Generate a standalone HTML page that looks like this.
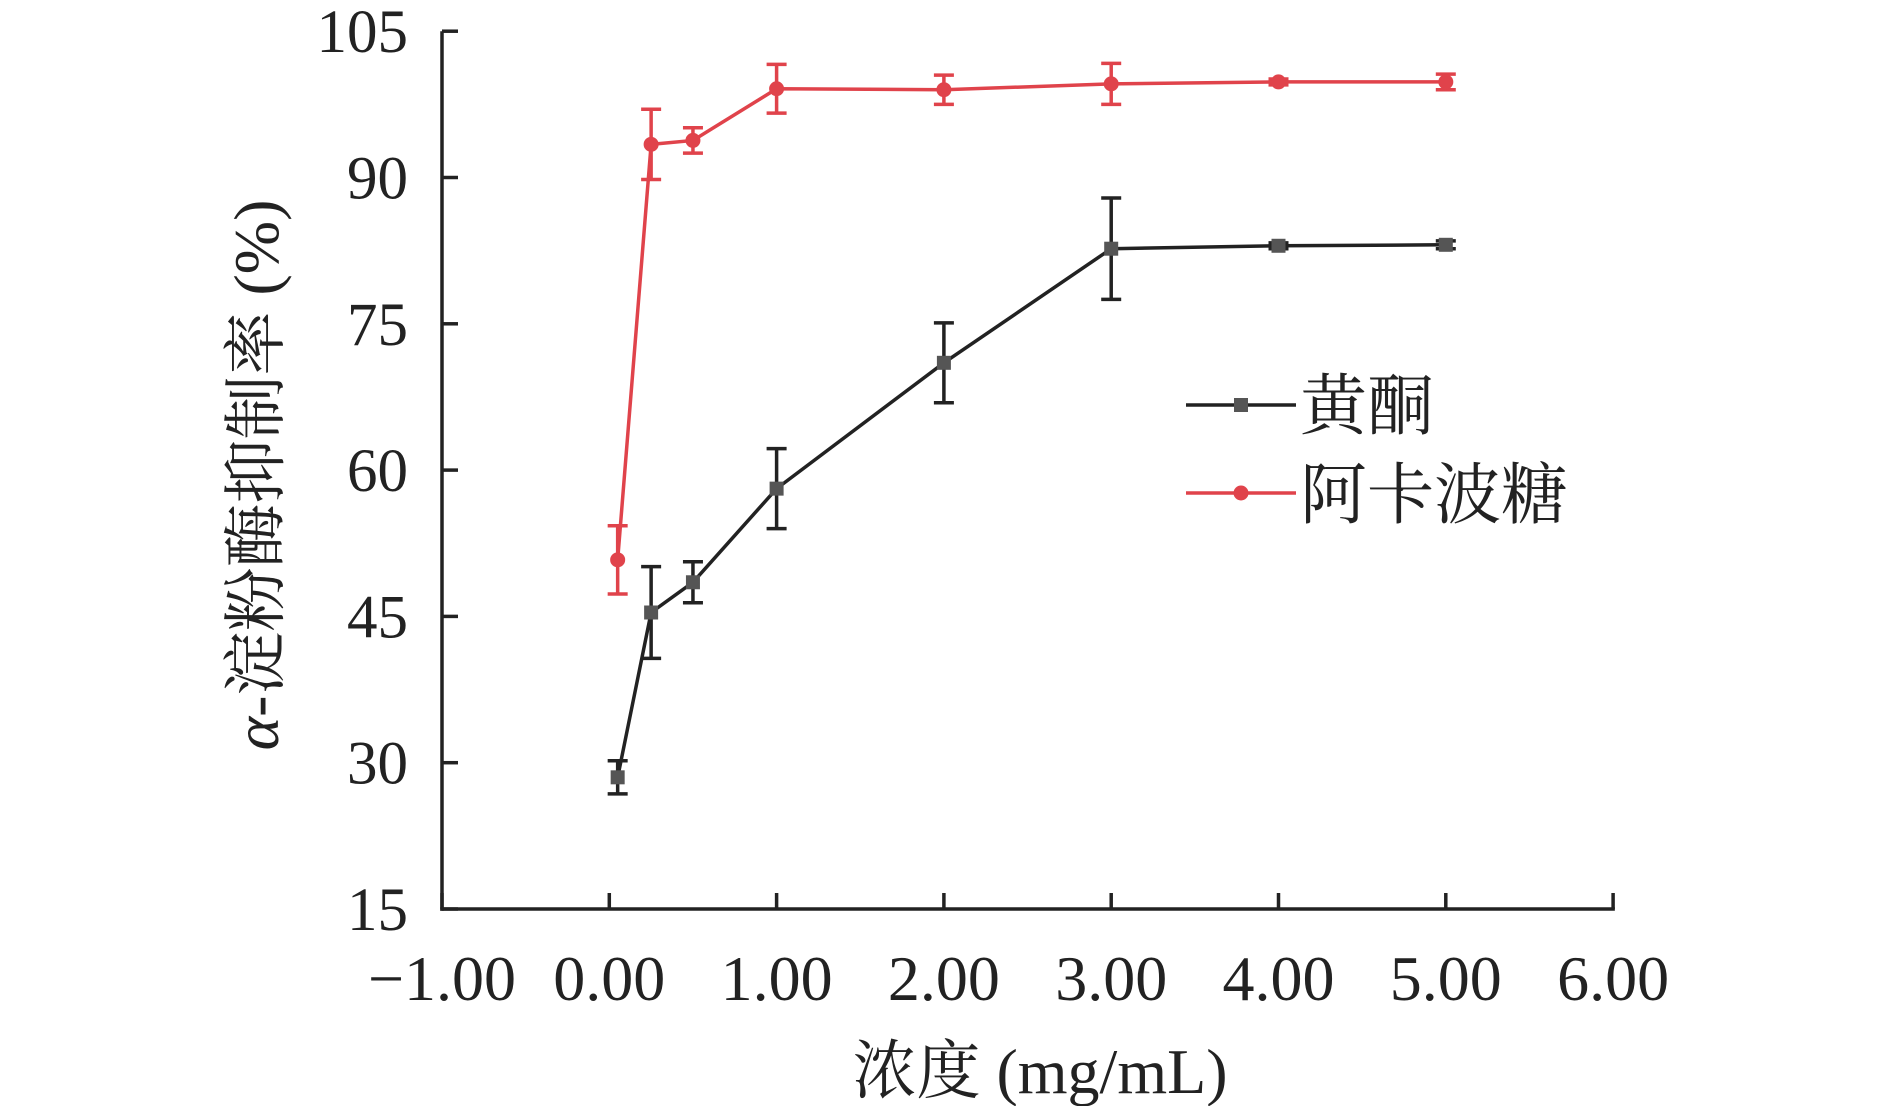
<!DOCTYPE html>
<html><head><meta charset="utf-8"><style>
html,body{margin:0;padding:0;background:#fff;}
svg{display:block;}
text{font-family:"Liberation Serif","Noto Serif CJK SC",serif;fill:#222;}
</style></head><body>
<svg id="chart" width="1890" height="1106" viewBox="0 0 1890 1106" xmlns="http://www.w3.org/2000/svg">
<g id="axes"></g>
<g id="series"></g>
<text transform="translate(278,475) rotate(-90)" text-anchor="middle" font-size="64"><tspan font-style="italic">α</tspan>-淀粉酶抑制率 (%)</text>
<text x="1040" y="1093" text-anchor="middle" font-size="64">浓度 (mg/mL)</text>
<g transform="translate(-15,-3)">
<g>
<line x1="1201" y1="408" x2="1311" y2="408" stroke="#222" stroke-width="3.5"/>
<rect x="1249" y="401" width="14" height="14" fill="#555"/>
<text x="1315" y="432" font-size="67">黄酮</text></g>
<g>
<line x1="1201" y1="496" x2="1311" y2="496" stroke="#e0434b" stroke-width="3.5"/>
<circle cx="1256" cy="496" r="7.5" fill="#e0434b"/>
<text x="1315" y="521" font-size="67">阿卡波糖</text></g>
</g>
</svg>
<script>
const xCats=[0.05,0.25,0.5,1,2,3,4,5];
const flavone=[28.5,45.4,48.5,58.1,71.0,82.7,83.0,83.1];
const flavoneErr=[1.7,4.7,2.1,4.1,4.1,5.2,0.3,0.4];
const acarbose=[50.8,93.4,93.8,99.1,99.0,99.6,99.8,99.8];
const acarboseErr=[3.5,3.6,1.3,2.5,1.5,2.1,0.3,0.8];
const xTicks=[-1,0,1,2,3,4,5,6];
const xTickLabels=["−1.00","0.00","1.00","2.00","3.00","4.00","5.00","6.00"];
const yTicks=[15,30,45,60,75,90,105];

const NS="http://www.w3.org/2000/svg";
const X0=442,XU=167.3,Y0=909,YU=146.3/15;
const sx=v=>X0+(v+1)*XU;
const sy=v=>Y0-(v-15)*YU;
function mk(tag,attrs,parent){const e=document.createElementNS(NS,tag);for(const k in attrs)e.setAttribute(k,attrs[k]);parent.appendChild(e);return e;}
const ax=document.getElementById('axes');
let e=mk('line',{x1:sx(-1),y1:sy(105),x2:sx(-1),y2:sy(15)+1.75,stroke:'#222','stroke-width':3.5},ax);


e=mk('line',{x1:sx(-1)-1.75,y1:sy(15),x2:sx(6)+1.75,y2:sy(15),stroke:'#222','stroke-width':3.5},ax);


yTicks.forEach(v=>{
  const t=mk('line',{x1:sx(-1),y1:sy(v),x2:sx(-1)+16,y2:sy(v),stroke:'#222','stroke-width':3.5},ax);
  
  
  const l=mk('text',{x:408,y:sy(v)+21,'text-anchor':'end','font-size':61},ax);
  l.textContent=String(v);
  
  
});
xTicks.forEach((v,i)=>{
  const t=mk('line',{x1:sx(v),y1:sy(15),x2:sx(v),y2:sy(15)-16,stroke:'#222','stroke-width':3.5},ax);
  
  
  const l=mk('text',{x:sx(v),y:1000,'text-anchor':'middle','font-size':64},ax);
  l.textContent=xTickLabels[i];
  
  
});
const sg=document.getElementById('series');
function drawSeries(vals,errs,color,mcolor,shape,name){
  const g=mk('g',{},sg);
  
  
  const pts=xCats.map((x,i)=>sx(x)+','+sy(vals[i])).join(' ');
  const pl=mk('polyline',{points:pts,fill:'none',stroke:color,'stroke-width':3.5},g);
  
  
  xCats.forEach((x,i)=>{
    const cx=sx(x),hi=sy(vals[i]+errs[i]),lo=sy(vals[i]-errs[i]);
    const p=mk('path',{d:`M${cx},${hi}V${lo}M${cx-10},${hi}H${cx+10}M${cx-10},${lo}H${cx+10}`,stroke:color,'stroke-width':3.5,fill:'none'},g);
    
    
    let m;
    if(shape==='square') m=mk('rect',{x:cx-7,y:sy(vals[i])-7,width:14,height:14,fill:mcolor},g);
    else m=mk('circle',{cx:cx,cy:sy(vals[i]),r:7.5,fill:mcolor},g);
    
    
  });
}
drawSeries(flavone,flavoneErr,'#222','#555','square','flavone');
drawSeries(acarbose,acarboseErr,'#e0434b','#e0434b','circle','acarbose');
</script>
</body></html>
